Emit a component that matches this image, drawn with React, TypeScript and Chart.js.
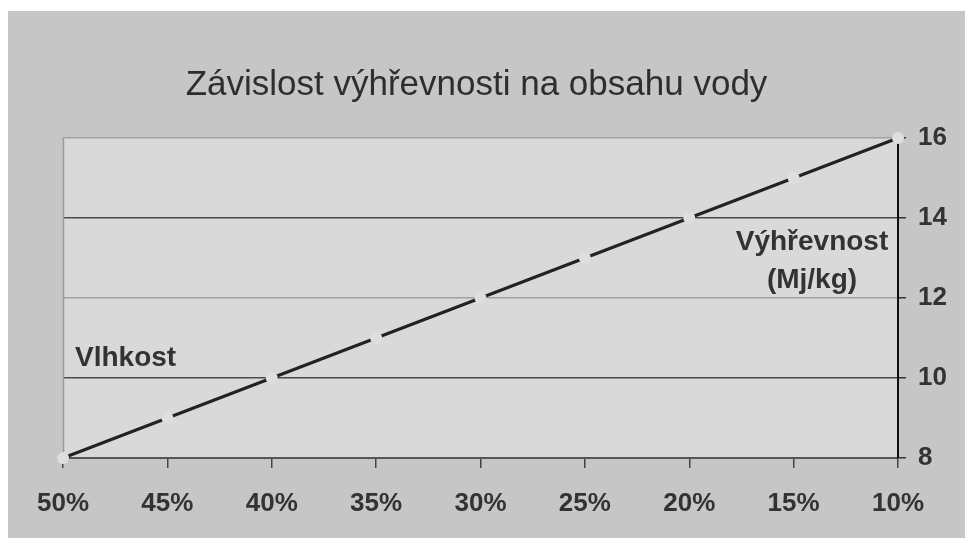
import React, { useEffect, useRef } from "react";
import { Chart, registerables } from "chart.js";

Chart.register(...registerables);

const titleText = "Závislost výhřevnosti na obsahu vody";
const categories = ["50%", "45%", "40%", "35%", "30%", "25%", "20%", "15%", "10%"];
const heatingValues = [8, 9, 10, 11, 12, 13, 14, 15, 16];
const yMin = 8;
const yMax = 16;
const yStep = 2;
const leftNote = "Vlhkost";
const rightNoteLines = ["Výhřevnost", "(Mj/kg)"];

const FONT = "'Liberation Sans', Arial, sans-serif";

const decorPlugin = {
  id: "decor",
  beforeDraw(chart: any) {
    const { ctx, chartArea, width, height } = chart;
    ctx.save();
    ctx.fillStyle = "#c6c6c6";
    ctx.fillRect(0, 0, width, height);
    ctx.fillStyle = "#d9d9d9";
    ctx.fillRect(chartArea.left, chartArea.top, chartArea.right - chartArea.left, chartArea.bottom - chartArea.top);
    ctx.restore();
  },
  beforeDatasetsDraw(chart: any) {
    const { ctx, chartArea } = chart;
    ctx.save();
    ctx.strokeStyle = "#9a9a9a";
    ctx.lineWidth = 1.5;
    ctx.beginPath();
    ctx.moveTo(chartArea.left + 0.5, chartArea.top);
    ctx.lineTo(chartArea.left + 0.5, chartArea.bottom);
    ctx.stroke();
    ctx.restore();
  },
  afterDraw(chart: any) {
    const { ctx, chartArea } = chart;
    const y = chart.scales.y;
    ctx.save();
    ctx.fillStyle = "#2e2e2e";
    ctx.textBaseline = "middle";
    ctx.font = `normal 35px ${FONT}`;
    ctx.textAlign = "center";
    ctx.fillText(titleText, (chartArea.left + chartArea.right) / 2 - 4, 74);

    ctx.fillStyle = "#333333";
    ctx.font = `bold 28px ${FONT}`;
    ctx.textAlign = "left";
    ctx.fillText(leftNote, chartArea.left + 12, y.getPixelForValue(10.5));

    ctx.textAlign = "center";
    const cx = chartArea.right - 86;
    ctx.fillText(rightNoteLines[0], cx, y.getPixelForValue(13.4));
    ctx.fillText(rightNoteLines[1], cx, y.getPixelForValue(12.45));
    ctx.restore();
  },
};

export default function App() {
  const canvasRef = useRef<HTMLCanvasElement | null>(null);

  useEffect(() => {
    if (!canvasRef.current) return;
    const chart = new Chart(canvasRef.current, {
      type: "line",
      data: {
        labels: categories,
        datasets: [
          {
            data: heatingValues,
            borderColor: "#222222",
            borderWidth: 3,
            pointRadius: 6,
            pointHoverRadius: 6,
            pointBackgroundColor: "#dedede",
            pointBorderWidth: 0,
            fill: false,
            tension: 0,
            clip: false as any,
          },
        ],
      },
      options: {
        responsive: false,
        animation: false,
        devicePixelRatio: 1,
        layout: { padding: { left: 55, top: 127, right: 0, bottom: 0 } },
        plugins: {
          legend: { display: false },
          title: { display: false },
          tooltip: { enabled: false },
        },
        scales: {
          x: {
            type: "category",
            offset: false,
            afterFit: (s: any) => {
              s.height = 80;
            },
            grid: {
              display: true,
              drawOnChartArea: false,
              drawTicks: true,
              tickLength: 10,
              tickColor: "#444444",
              lineWidth: 1.5,
            },
            border: { display: true, color: "#555555", width: 2 },
            ticks: {
              color: "#333333",
              font: { family: FONT, size: 26, weight: "bold" },
              padding: 20,
              maxRotation: 0,
              autoSkip: false,
            },
          },
          y: {
            type: "linear",
            position: "right",
            min: yMin,
            max: yMax,
            afterFit: (s: any) => {
              s.width = 67;
            },
            grid: {
              drawOnChartArea: true,
              drawTicks: true,
              tickLength: 8,
              tickColor: "#333333",
              color: (c: any) => {
                const v = c.tick ? c.tick.value : 0;
                if (v === 10 || v === 14) return "#4a4a4a";
                if (v === 8) return "#555555";
                return "#a2a2a2";
              },
              lineWidth: 1.5,
            },
            border: { display: true, color: "#111111", width: 2 },
            ticks: {
              stepSize: yStep,
              color: "#333333",
              font: { family: FONT, size: 26, weight: "bold" },
              padding: 12,
            },
          },
        },
      },
      plugins: [decorPlugin],
    });
    return () => chart.destroy();
  }, []);

  return (
    <div style={{ position: "fixed", left: 8, top: 11, width: 957, height: 527 }}>
      <canvas ref={canvasRef} width={957} height={527} style={{ display: "block", width: 957, height: 527 }} />
    </div>
  );
}
